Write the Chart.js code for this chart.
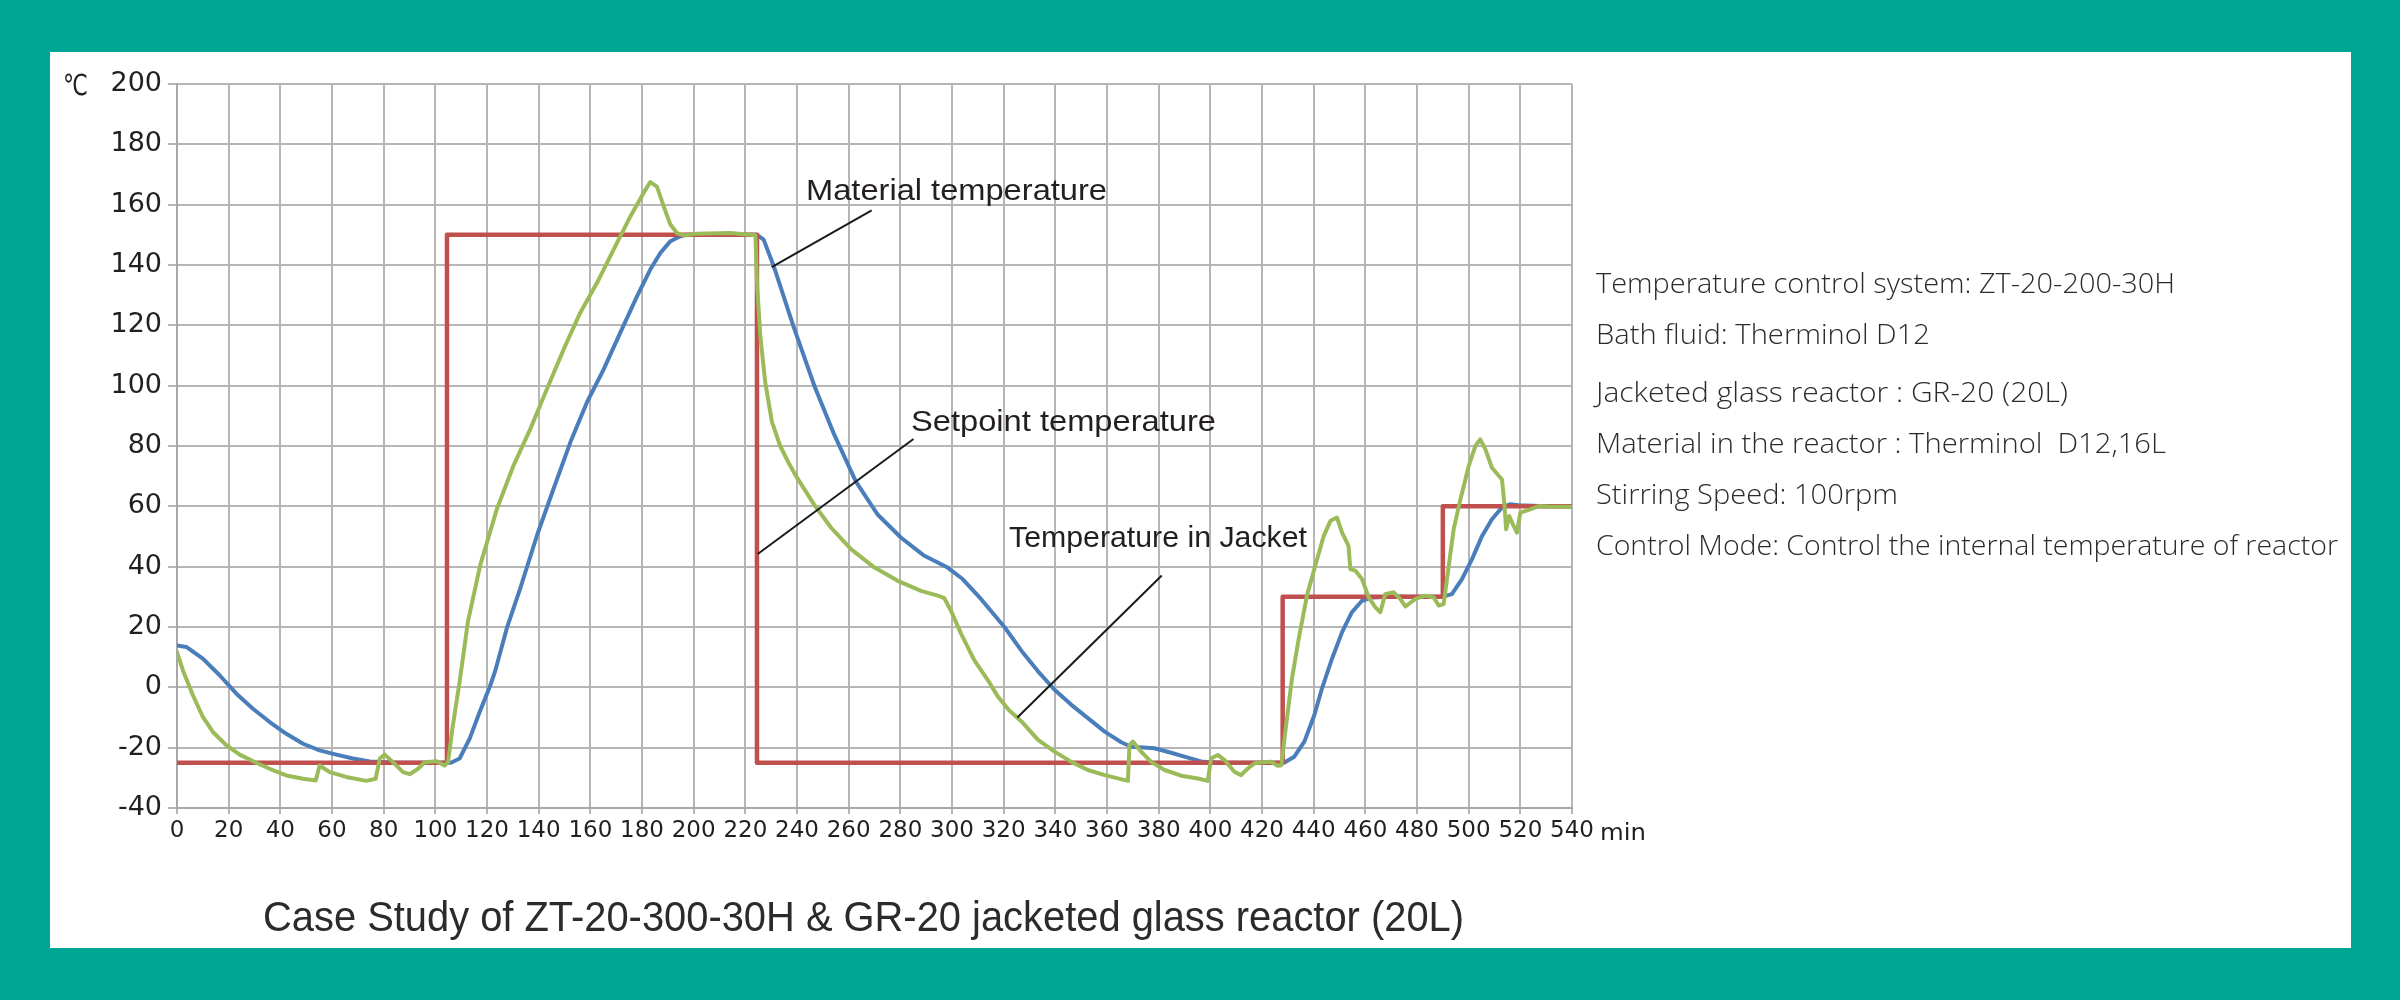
<!DOCTYPE html>
<html>
<head>
<meta charset="utf-8">
<script src="https://cdn.jsdelivr.net/npm/chart.js@4.4.1/dist/chart.umd.min.js"></script>
<style>
  html, body { margin:0; padding:0; background:#00a694; }
  body { width:2400px; height:1000px; position:relative; overflow:hidden; }
  #panel { position:absolute; left:50px; top:52px; width:2301px; height:896px; background:#ffffff; }
  #chart { position:absolute; left:0; top:0; }
  #overlay { position:absolute; left:0; top:0; pointer-events:none; }
</style>
</head>
<body>
<div id="panel"></div>
<canvas id="chart" width="2400" height="1000" style="width:2400px;height:1000px"></canvas>
<svg id="overlay" width="2400" height="1000" xmlns="http://www.w3.org/2000/svg">
  <text x="63" y="95" font-family="DejaVu Sans" font-size="29" fill="#231f20" textLength="25" lengthAdjust="spacingAndGlyphs">℃</text>
  <text x="1600" y="840" font-family="DejaVu Sans" font-size="23" fill="#231f20" textLength="46" lengthAdjust="spacingAndGlyphs">min</text>

  <text x="806" y="200" font-family="Liberation Sans" font-size="30" fill="#231f20" textLength="301" lengthAdjust="spacingAndGlyphs">Material temperature</text>
  <text x="911" y="431" font-family="Liberation Sans" font-size="30" fill="#231f20" textLength="305" lengthAdjust="spacingAndGlyphs">Setpoint temperature</text>
  <text x="1009" y="547" font-family="Liberation Sans" font-size="30" fill="#231f20" textLength="298" lengthAdjust="spacingAndGlyphs">Temperature in Jacket</text>

  <g font-family="Open Sans" font-weight="300" font-size="27" fill="#2b2b2b">
    <text x="1596" y="293" textLength="579" lengthAdjust="spacingAndGlyphs">Temperature control system: ZT-20-200-30H</text>
    <text x="1596" y="344" textLength="334" lengthAdjust="spacingAndGlyphs">Bath fluid: Therminol D12</text>
    <text x="1596" y="402" textLength="472" lengthAdjust="spacingAndGlyphs">Jacketed glass reactor : GR-20 (20L)</text>
    <text x="1596" y="453" textLength="570" lengthAdjust="spacingAndGlyphs" xml:space="preserve">Material in the reactor : Therminol  D12,16L</text>
    <text x="1596" y="504" textLength="302" lengthAdjust="spacingAndGlyphs">Stirring Speed: 100rpm</text>
    <text x="1596" y="555" textLength="742" lengthAdjust="spacingAndGlyphs">Control Mode: Control the internal temperature of reactor</text>
  </g>

  <text x="263" y="931" font-family="Liberation Sans" font-size="42" fill="#2b2b2b" textLength="1201" lengthAdjust="spacingAndGlyphs">Case Study of ZT-20-300-30H &amp; GR-20 jacketed glass reactor (20L)</text>
</svg>
<script>
// ---- tick values / labels ----
const xTickValues = [0,20,40,60,80,100,120,140,160,180,200,220,240,260,280,300,320,340,360,380,400,420,440,460,480,500,520,540];
const xTickLabels = ["0","20","40","60","80","100","120","140","160","180","200","220","240","260","280","300","320","340","360","380","400","420","440","460","480","500","520","540"];
const yTickValues = [-40,-20,0,20,40,60,80,100,120,140,160,180,200];
const yTickLabels = ["-40","-20","0","20","40","60","80","100","120","140","160","180","200"];

// ---- series: [minutes, °C] ----
const setpointTemp = [
  [0,-25],[104.5,-25],[104.5,150],[224.5,150],[224.5,-25],[428,-25],[428,30],[490,30],[490,60],[540,60]
];

const materialTemp = [
  [0,13.9],[3.6,13.4],[10,9.5],[16.5,4],[23,-2.1],[29.4,-7.1],[35.9,-11.5],[42.3,-15.4],[48.8,-18.7],
  [55.2,-20.9],[61.7,-22.3],[68.1,-23.6],[74.6,-24.6],[85,-25],[95,-25],[106,-25],[109.4,-23.6],
  [113.3,-17],[117,-8.5],[121,0],[123.2,5.5],[127.7,19.7],[132.9,32.9],[139.4,50.5],[145.8,65.9],
  [152.3,81.3],[158.7,94.5],[165.2,105.5],[171.6,117.6],[178.1,129.7],[183.2,138.5],[187.1,144],
  [191,147.9],[194.2,149.3],[197,150],[224.5,150],[227.1,148.4],[231,139.6],[234.8,129.7],[238.5,120],
  [246.7,100],[254.5,83.6],[262.8,68.2],[271.2,57.3],[280.3,49.6],[289.3,43.6],[298.3,39.7],[304.1,35.9],
  [311.2,29.3],[320.3,20],[327,12],[333.3,5.3],[339.7,-0.8],[346.2,-5.8],[352.6,-10.2],[359.1,-14.7],
  [365.5,-18.2],[369.4,-19.7],[378.4,-20.2],[384.8,-21.7],[391.3,-23.3],[397.1,-24.7],[405,-25],
  [415,-25],[424,-25],[428.7,-24.9],[432.5,-23],[436.4,-18],[440.3,-9.1],[443.2,-0.4],[447.1,9.5],
  [451,18.3],[454.8,24.9],[458.7,28.7],[462.6,29.8],[470,30],[480,30],[489.7,30],[493.5,30.9],
  [497.4,35.9],[501.3,42.5],[505.2,50.2],[509,55.7],[512.9,59.6],[516.1,60.7],[519.4,60.4],[530,60],[540,60]
];

const jacketTemp = [
  [0,11.7],[2.3,5.6],[6.2,-2.7],[10,-9.8],[13.9,-14.8],[19.1,-19.2],[24.3,-22.3],[30.7,-25],[35.9,-27],
  [42.3,-29.2],[48.8,-30.3],[53.7,-30.9],[55.2,-25.9],[59.1,-28.1],[65.5,-29.7],[73.3,-31],[76.9,-30.3],
  [78.5,-23.6],[80.4,-22.3],[83.6,-24.8],[87.5,-28.1],[90.1,-28.8],[93.3,-27],[95.9,-24.8],[100.4,-24.5],
  [103.6,-25.9],[104.9,-24.8],[106.8,-12.6],[109.4,1.8],[112.6,21.7],[117.4,40.6],[123.9,59.3],
  [130.3,73.6],[136.8,85.7],[143.2,98.9],[149.7,112.1],[156.1,124.2],[162.6,134.1],[169,145.1],
  [175.5,156.1],[180.6,163.9],[183.2,167.5],[185.8,166],[188.4,159.4],[191,153.4],[193.5,150.6],
  [196.1,149.8],[201.3,150.4],[214.2,150.6],[223.9,149.9],[224.5,134.1],[225.8,116.5],[227.7,101.1],
  [230.3,88],[233.5,80],[237,74],[240,69.5],[246.7,60.5],[253.2,52.9],[260.9,45.8],[270,39.7],[279,35.3],
  [288,32],[294.5,30.4],[297,29.6],[299.6,25.4],[303.5,17.8],[308.6,9],[313.8,2.5],[317.7,-3],[322,-7.5],
  [326.9,-11.3],[333.3,-17.4],[339.7,-21.3],[346.2,-24.7],[352.6,-27.4],[359.1,-29.1],[368.1,-31],
  [368.7,-19.1],[370,-18],[373.2,-21.3],[377.1,-24.7],[382.3,-27.4],[388.7,-29.3],[395.2,-30.2],[399,-31],
  [400.3,-23.6],[402.9,-22.4],[405.5,-24.1],[409.3,-28],[411.9,-29.1],[414.5,-26.9],[417.1,-25.2],
  [419.6,-24.9],[423.5,-24.7],[426.1,-26],[427.5,-25.8],[429,-14.8],[431.6,2.9],[434.2,16.1],[437.4,30.4],
  [440.6,40.3],[443.9,50.2],[446.5,55.2],[449,56.3],[451,51.3],[453.5,46.9],[454.2,39.2],[456.1,38.7],
  [458.7,35.9],[461.3,29.8],[463.9,26.5],[465.8,24.9],[467.7,30.9],[471,31.5],[473.5,29.3],[475.5,26.8],
  [479.4,29.3],[483.2,30.4],[486.5,29.8],[488.4,27.1],[490.3,27.6],[492.3,40.3],[494.2,52.4],[496.8,62.3],
  [500,73.3],[502.6,80],[504.5,82.2],[506.5,78.9],[509,72.8],[512.9,68.9],[513.9,60.1],[514.5,52.4],
  [515.7,56.8],[517.4,53.5],[518.7,51.3],[520,57.9],[523.2,58.8],[527.1,60.1],[532.3,59.9],[540,59.9]
];

// leader lines for annotations, in data units [min, °C] -> [min, °C]
const leaderLines = [
  [[230.2,139.3],[268.9,158.1]],
  [[224.8,44.2],[285.1,82.3]],
  [[325.3,-10],[381.2,37.1]]
];

const toXY = arr => arr.map(p => ({x:p[0], y:p[1]}));

const leaderPlugin = {
  id:'leaders',
  afterDatasetsDraw(chart){
    const {ctx, scales:{x, y}} = chart;
    ctx.save();
    ctx.strokeStyle = '#1a1a1a';
    ctx.lineWidth = 2;
    leaderLines.forEach(seg => {
      ctx.beginPath();
      ctx.moveTo(x.getPixelForValue(seg[0][0]), y.getPixelForValue(seg[0][1]));
      ctx.lineTo(x.getPixelForValue(seg[1][0]), y.getPixelForValue(seg[1][1]));
      ctx.stroke();
    });
    ctx.restore();
  }
};

const gridColor = '#b6b6b6';

new Chart(document.getElementById('chart'), {
  type:'line',
  data:{
    datasets:[
      { label:'Temperature in Jacket', data:toXY(jacketTemp), borderColor:'#9bbb59', borderWidth:4, order:1 },
      { label:'Setpoint temperature', data:toXY(setpointTemp), borderColor:'#c0504d', borderWidth:4.5, order:2 },
      { label:'Material temperature', data:toXY(materialTemp), borderColor:'#4a7ebb', borderWidth:4, order:3 }
    ]
  },
  options:{
    responsive:false,
    animation:false,
    devicePixelRatio:1,
    elements:{ point:{ radius:0 }, line:{ tension:0, borderJoinStyle:'round', borderCapStyle:'round', fill:false } },
    layout:{ padding:{ left:0, top:84, right:828, bottom:0 } },
    plugins:{ legend:{ display:false }, tooltip:{ enabled:false }, title:{ display:false } },
    scales:{
      x:{
        type:'linear', min:0, max:540,
        afterBuildTicks(scale){ scale.ticks = xTickValues.map(v => ({value:v})); },
        afterFit(scale){ scale.height = 192; },
        ticks:{
          autoSkip:false, maxRotation:0, minRotation:0, padding:3,
          color:'#231f20', font:{ family:'DejaVu Sans', size:23 },
          callback(value, index){ return xTickLabels[index]; }
        },
        grid:{ color:gridColor, lineWidth:2, tickLength:6, drawTicks:true },
        border:{ display:true, color:'#a8a8a8', width:2 }
      },
      y:{
        type:'linear', min:-40, max:200,
        afterBuildTicks(scale){ scale.ticks = yTickValues.map(v => ({value:v})); },
        afterFit(scale){ scale.width = 177; },
        ticks:{
          autoSkip:false, padding:6,
          color:'#231f20', font:{ family:'DejaVu Sans', size:27 },
          callback(value, index){ return yTickLabels[index]; }
        },
        grid:{ color:gridColor, lineWidth:2, tickLength:9, drawTicks:true },
        border:{ display:true, color:'#a8a8a8', width:2 }
      }
    }
  },
  plugins:[leaderPlugin]
});
</script>
</body>
</html>
